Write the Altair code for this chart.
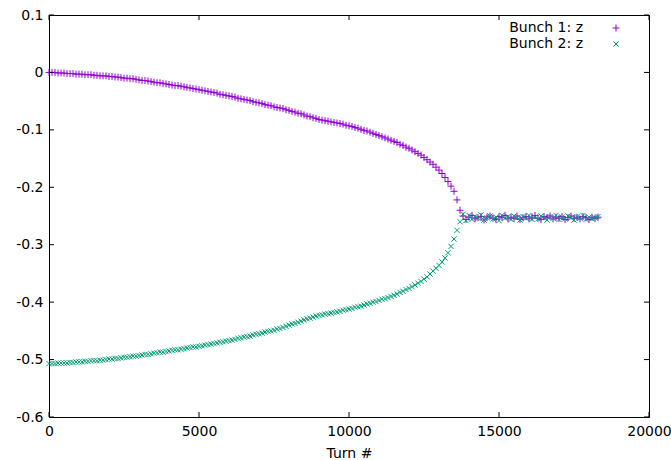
import altair as alt
import pandas as pd

turns_branch = list(range(0, 13800, 100))

z_bunch1_branch = [
    0.000, -0.000, -0.000, -0.001, -0.001, -0.001, -0.002, -0.002, -0.002, -0.003,
    -0.003, -0.003, -0.004, -0.004, -0.004, -0.005, -0.005, -0.006, -0.006, -0.006,
    -0.007, -0.007, -0.008, -0.008, -0.009, -0.010, -0.010, -0.011, -0.011, -0.012,
    -0.013, -0.014, -0.014, -0.015, -0.016, -0.017, -0.018, -0.018, -0.019, -0.020,
    -0.021, -0.022, -0.023, -0.023, -0.024, -0.025, -0.026, -0.027, -0.028, -0.029,
    -0.030, -0.031, -0.032, -0.033, -0.034, -0.035, -0.036, -0.038, -0.039, -0.040,
    -0.041, -0.042, -0.043, -0.045, -0.046, -0.047, -0.048, -0.049, -0.051, -0.052,
    -0.053, -0.054, -0.056, -0.057, -0.058, -0.060, -0.061, -0.062, -0.063, -0.065,
    -0.066, -0.068, -0.069, -0.071, -0.072, -0.074, -0.076, -0.077, -0.079, -0.080,
    -0.082, -0.083, -0.084, -0.085, -0.086, -0.087, -0.088, -0.089, -0.090, -0.092,
    -0.093, -0.094, -0.096, -0.097, -0.099, -0.101, -0.102, -0.104, -0.106, -0.108,
    -0.110, -0.112, -0.114, -0.116, -0.118, -0.120, -0.122, -0.125, -0.127, -0.130,
    -0.132, -0.135, -0.138, -0.141, -0.144, -0.148, -0.152, -0.156, -0.160, -0.165,
    -0.170, -0.176, -0.183, -0.190, -0.198, -0.207, -0.222, -0.240]

z_bunch2_branch = [
    -0.507, -0.507, -0.507, -0.506, -0.506, -0.506, -0.506, -0.505, -0.505, -0.504,
    -0.504, -0.504, -0.503, -0.503, -0.502, -0.502, -0.502, -0.501, -0.501, -0.500,
    -0.499, -0.499, -0.498, -0.498, -0.497, -0.496, -0.496, -0.495, -0.494, -0.494,
    -0.493, -0.492, -0.491, -0.491, -0.490, -0.489, -0.488, -0.487, -0.487, -0.486,
    -0.485, -0.484, -0.483, -0.483, -0.482, -0.481, -0.480, -0.479, -0.478, -0.478,
    -0.477, -0.476, -0.475, -0.474, -0.473, -0.472, -0.471, -0.470, -0.469, -0.468,
    -0.467, -0.466, -0.465, -0.463, -0.462, -0.461, -0.460, -0.459, -0.457, -0.456,
    -0.455, -0.454, -0.452, -0.451, -0.450, -0.449, -0.447, -0.446, -0.444, -0.442,
    -0.440, -0.438, -0.437, -0.435, -0.433, -0.431, -0.429, -0.428, -0.426, -0.424,
    -0.423, -0.422, -0.421, -0.420, -0.419, -0.418, -0.417, -0.416, -0.414, -0.413,
    -0.412, -0.411, -0.409, -0.408, -0.407, -0.405, -0.403, -0.402, -0.400, -0.399,
    -0.397, -0.395, -0.394, -0.392, -0.390, -0.388, -0.386, -0.383, -0.381, -0.378,
    -0.376, -0.373, -0.370, -0.367, -0.364, -0.360, -0.356, -0.351, -0.346, -0.341,
    -0.336, -0.330, -0.323, -0.314, -0.303, -0.290, -0.275, -0.260]

# Turn numbers of the merged band
turns_merged = list(range(13800, 18400, 100))

z_bunch1_merged = [
    -0.250, -0.256, -0.252, -0.249, -0.255, -0.253, -0.251, -0.257, -0.252, -0.250,
    -0.254, -0.256, -0.251, -0.253, -0.249, -0.255, -0.252, -0.254, -0.250, -0.256,
    -0.253, -0.251, -0.255, -0.252, -0.249, -0.254, -0.256, -0.251, -0.253, -0.250,
    -0.255, -0.252, -0.254, -0.251, -0.256, -0.253, -0.250, -0.254, -0.252, -0.255,
    -0.251, -0.253, -0.256, -0.252, -0.254, -0.252]

z_bunch2_merged = [
    -0.247, -0.258, -0.249, -0.256, -0.251, -0.254, -0.248, -0.257, -0.253, -0.250,
    -0.255, -0.252, -0.258, -0.249, -0.254, -0.251, -0.256, -0.250, -0.253, -0.257,
    -0.251, -0.254, -0.249, -0.256, -0.252, -0.255, -0.250, -0.253, -0.257, -0.251,
    -0.254, -0.249, -0.256, -0.252, -0.255, -0.250, -0.253, -0.257, -0.251, -0.254,
    -0.249, -0.256, -0.252, -0.255, -0.253, -0.251]

series_names = ["Bunch 1: z", "Bunch 2: z"]
series_colors = ["#9400d3", "#009e73"]
plus_path = "M-1,0L1,0M0,-1L0,1"
cross_path = "M-0.75,-0.75L0.75,0.75M-0.75,0.75L0.75,-0.75"

x_ticks = [0, 5000, 10000, 15000, 20000]
y_ticks = [-0.6, -0.5, -0.4, -0.3, -0.2, -0.1, 0.0, 0.1]

rows = []
for t, z in zip(turns_branch + turns_merged, z_bunch1_branch + z_bunch1_merged):
    rows.append({"turn": t, "z": z, "series": series_names[0], "order": 0})
for t, z in zip(turns_branch + turns_merged, z_bunch2_branch + z_bunch2_merged):
    rows.append({"turn": t, "z": z, "series": series_names[1], "order": 1})
df = pd.DataFrame(rows)
xt = pd.DataFrame({"turn": x_ticks})
yt = pd.DataFrame({"z": y_ticks})

W, H = 600, 402
TICK = 5
FONT = "DejaVu Sans"

xscale = alt.Scale(domain=[0, 20000], nice=False, zero=False)
yscale = alt.Scale(domain=[-0.6, 0.1], nice=False, zero=False)

points = alt.Chart(df).mark_point(filled=False, size=49, strokeWidth=1, opacity=1).encode(
    x=alt.X("turn:Q", title="Turn #", scale=xscale,
            axis=alt.Axis(values=x_ticks, format="d", tickSize=0, domain=False,
                          labelFlush=False, labelOverlap=False, labelBound=False,
                          labelPadding=7, titlePadding=8, grid=False)),
    y=alt.Y("z:Q", title=None, scale=yscale,
            axis=alt.Axis(values=y_ticks, tickSize=0, domain=False, labelPadding=6, grid=False,
                          labelFlush=False, labelOverlap=False, labelBound=False,
                          labelExpr="datum.value == 0 ? '0' : (datum.value < 0 ? '-' : '') + format(abs(datum.value), '.1f')")),
    color=alt.Color("series:N", title=None,
                    scale=alt.Scale(domain=series_names, range=series_colors),
                    legend=alt.Legend(orient="none", legendX=560, legendY=6,
                                      labelAlign="right", labelOffset={"expr": "-40"},
                                      symbolStrokeWidth=1, symbolSize=49,
                                      rowPadding=2, padding=0,
                                      labelFont=FONT, labelFontSize=14, labelColor="black")),
    shape=alt.Shape("series:N", title=None,
                    scale=alt.Scale(domain=series_names, range=[plus_path, cross_path])),
    order=alt.Order("order:Q"),
)

tick_bottom = alt.Chart(xt).mark_rule(color="black", strokeWidth=1).encode(
    x=alt.X("turn:Q", scale=xscale), y=alt.value(H), y2=alt.value(H - TICK))
tick_top = alt.Chart(xt).mark_rule(color="black", strokeWidth=1).encode(
    x=alt.X("turn:Q", scale=xscale), y=alt.value(0), y2=alt.value(TICK))
tick_left = alt.Chart(yt).mark_rule(color="black", strokeWidth=1).encode(
    y=alt.Y("z:Q", scale=yscale), x=alt.value(0), x2=alt.value(TICK))
tick_right = alt.Chart(yt).mark_rule(color="black", strokeWidth=1).encode(
    y=alt.Y("z:Q", scale=yscale), x=alt.value(W), x2=alt.value(W - TICK))

chart = alt.layer(points, tick_bottom, tick_top, tick_left, tick_right).properties(
    width=W, height=H,
    autosize=alt.AutoSizeParams(type="none"),
    padding={"left": 49, "top": 15, "right": 22, "bottom": 43},
).configure_view(
    stroke="black", strokeWidth=1
).configure_axis(
    labelFont=FONT, labelFontSize=14, labelColor="black",
    titleFont=FONT, titleFontSize=14, titleColor="black", titleFontWeight="normal",
)

chart.save("out.html", embed_options={"renderer": "svg", "actions": False})
